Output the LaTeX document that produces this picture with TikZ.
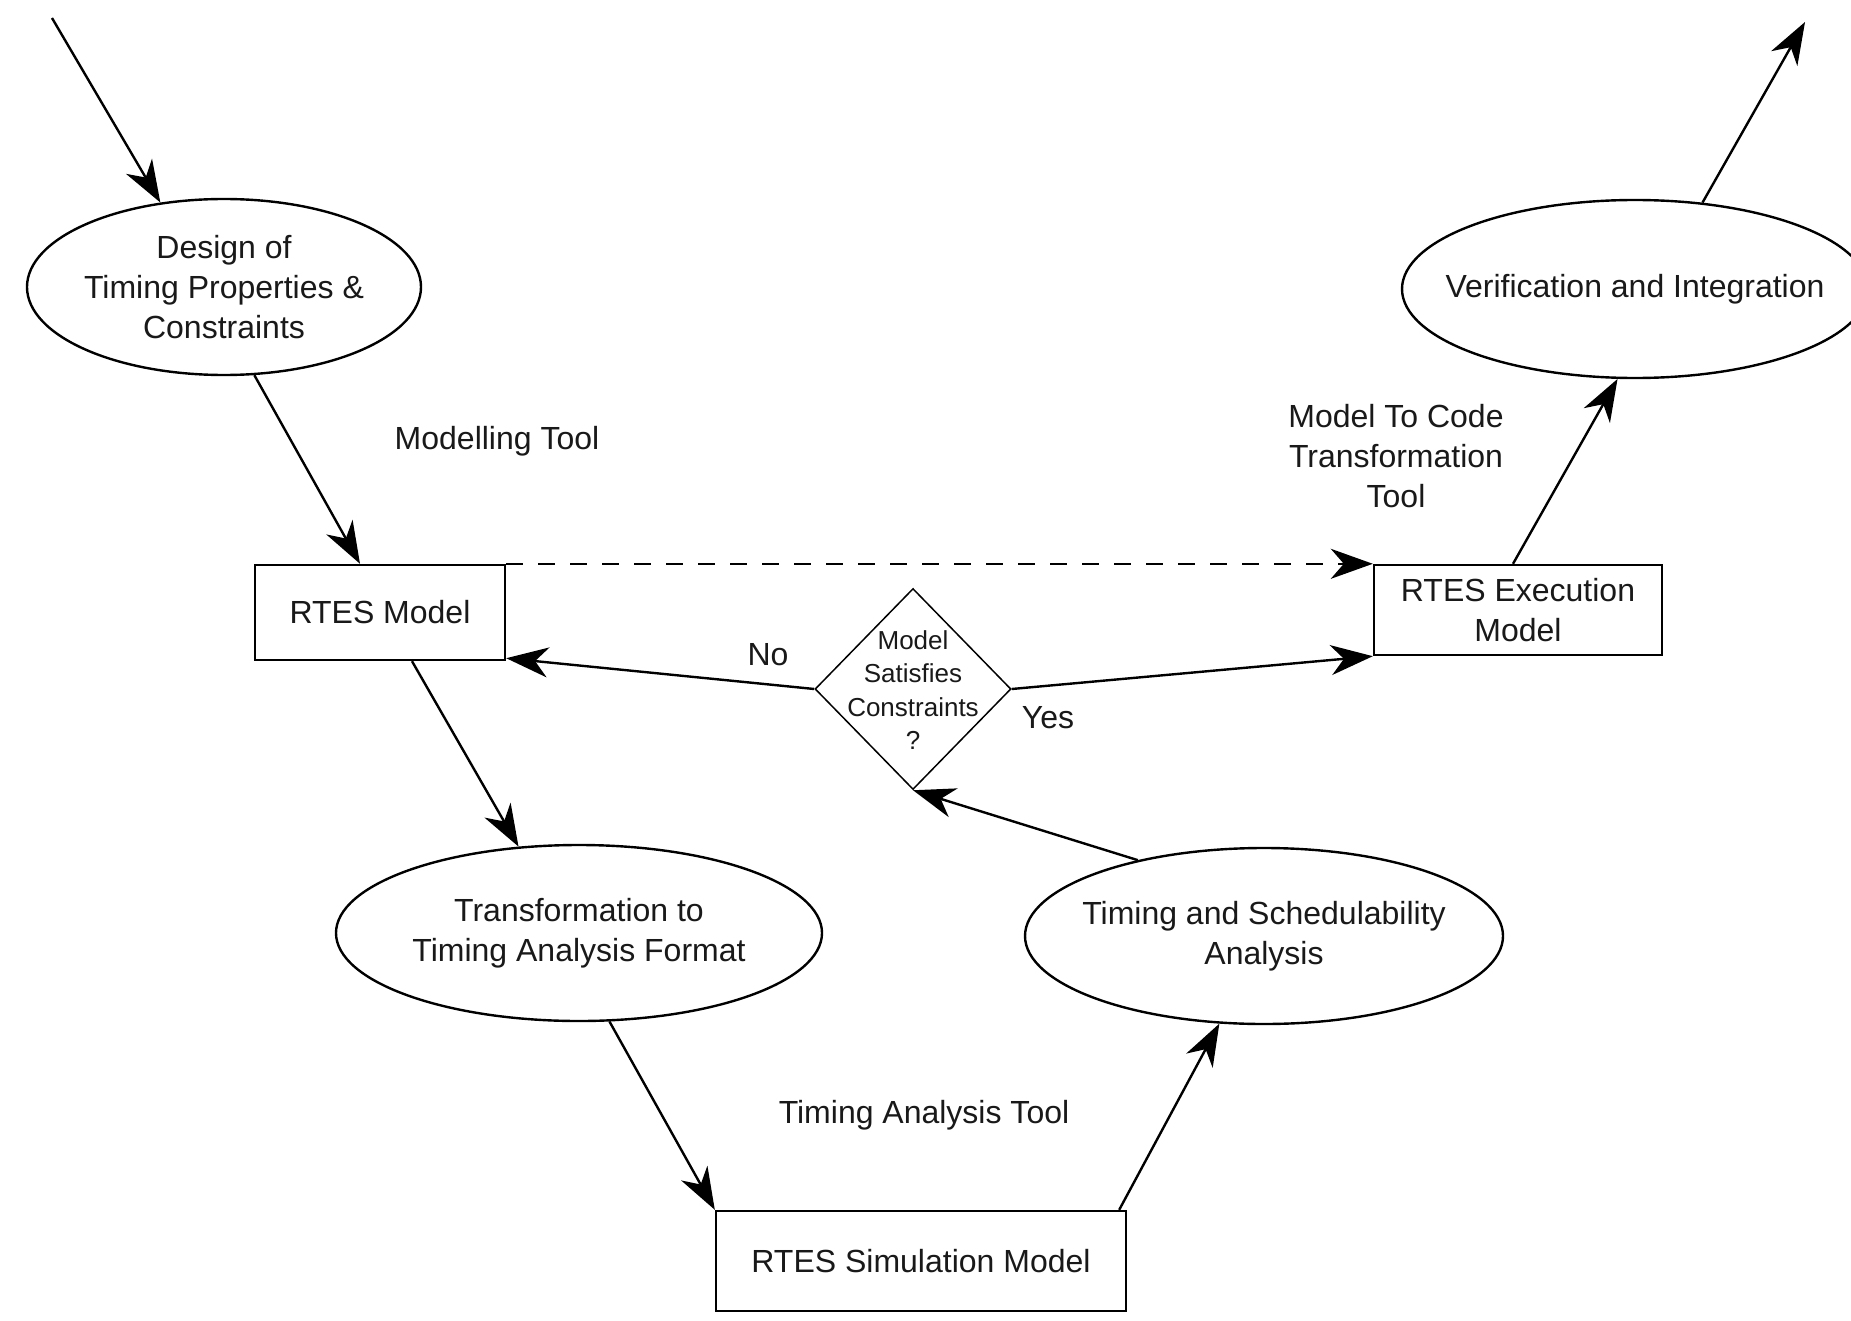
\documentclass[tikz,border=0pt]{standalone}
\usepackage{fontspec}
\setmainfont{Liberation Sans}
\usetikzlibrary{shapes.geometric,arrows.meta}
\begin{document}
\begin{tikzpicture}[x=1pt,y=-1pt,
  every node/.style={font=\fontsize{32pt}{40pt}\selectfont, align=center, inner sep=0pt, text=black!90},
  proc/.style={ellipse, draw, line width=2.4pt, inner xsep=-60pt, inner ysep=0pt},
  box/.style={rectangle, draw, line width=2.4pt},
  decision/.style={diamond, draw, line width=1.5pt, inner sep=0pt},
  arr/.style={line width=2.4pt, -{Stealth[length=42pt,width=30pt,inset=13pt]}},
  dashline/.style={dash pattern=on 17pt off 15pt}]
\fill[white] (0,0) rectangle (1851,1321);
\useasboundingbox (0,0) rectangle (1851,1321);

% nodes
\node[proc, minimum width=394pt, minimum height=176pt] (design) at (224,287)
  {Design of\\Timing Properties \&\\Constraints};
\node[proc, minimum width=466pt, minimum height=178pt] (verif) at (1635,289)
  {Verification and Integration};
\node[box, minimum width=250pt, minimum height=95pt] (rtes) at (380,612.5)
  {RTES Model};
\node[box, minimum width=288pt, minimum height=90pt] (exec) at (1518,610)
  {RTES Execution\\Model};
\node[decision, minimum width=196pt, minimum height=201pt] (dec) at (913,689) {};
\node[font=\fontsize{26pt}{33.5pt}\selectfont] (dectxt) at (913,690)
  {Model\\Satisfies\\Constraints\\?};
\node[proc, minimum width=486pt, minimum height=176pt] (trans) at (579,933)
  {Transformation to\\Timing Analysis Format};
\node[proc, minimum width=478pt, minimum height=176pt] (timing) at (1264,936)
  {Timing and Schedulability\\Analysis};
\node[box, minimum width=410pt, minimum height=100pt] (sim) at (921,1261)
  {RTES Simulation Model};

% labels
\node (ml) at (497,441) {Modelling Tool};
\node (m2c) at (1396,456) {Model To Code\\Transformation\\Tool};
\node (no) at (768,655) {No};
\node (yes) at (1048,718) {Yes};
\node (tat) at (924,1115) {Timing Analysis Tool};

% free ends
\coordinate (start) at (52,18);
\coordinate (finish) at (1805,22);

% connectors
\draw[arr] (start) -- (design.127);
\draw[arr] (design.-71) -- ([xshift=-20pt]rtes.north);
\draw[arr] ([xshift=32pt]rtes.south) -- (trans.125);
\draw[arr] (trans.-71) -- (sim.north west);
\draw[arr] ([xshift=-8pt]sim.north east) -- (timing.243);
\draw[arr] (timing.149) -- (dec.south);
\draw[arr] (dec.west) -- ([yshift=3pt]rtes.south east);
\draw[arr] (dec.east) -- (exec.south west);
\draw[arr, dashline] (rtes.north east) -- (exec.north west);
\draw[arr] ([xshift=-5pt]exec.north) -- (verif.259);
\draw[arr] (verif.52) -- (finish);
\end{tikzpicture}
\end{document}
